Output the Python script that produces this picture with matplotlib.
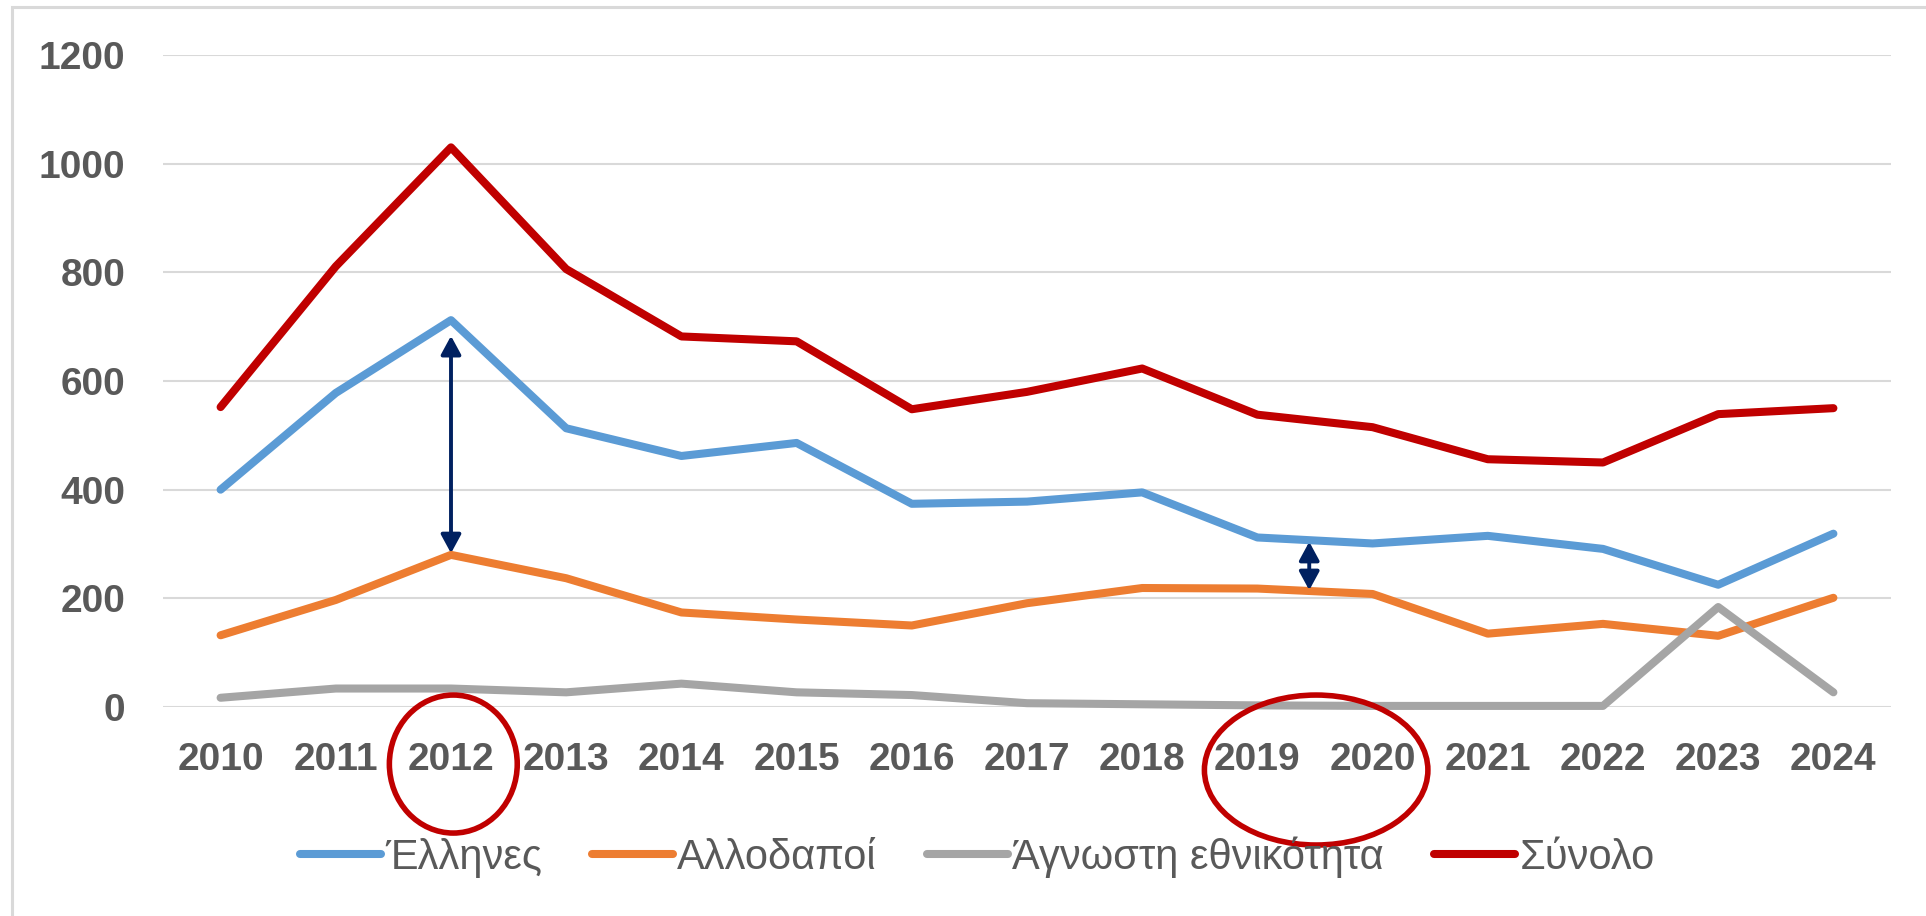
import matplotlib.pyplot as plt
from matplotlib.patches import Ellipse, Rectangle

# values
years = list(range(2010, 2025))
greeks = [400, 578, 712, 513, 462, 486, 374, 378, 395, 312, 301, 315, 291, 225, 319]
foreigners = [132, 197, 280, 237, 174, 161, 150, 191, 219, 218, 208, 135, 153, 131, 201]
unknown = [17, 34, 34, 27, 43, 27, 22, 7, 5, 3, 2, 2, 2, 184, 27]
total = [552, 811, 1030, 806, 682, 673, 548, 580, 623, 538, 515, 456, 450, 539, 550]

labels = ["Έλληνες", "Αλλοδαποί", "Άγνωστη εθνικότητα", "Σύνολο"]
colors = ["#5B9BD5", "#ED7D31", "#A5A5A5", "#C00000"]

plt.rcParams['font.family'] = ['Liberation Sans', 'DejaVu Sans']

W, H = 1926, 916
fig = plt.figure(figsize=(W / 100, H / 100), dpi=100)
ax = fig.add_axes([163 / W, 1 - 707 / H, (1891 - 163) / W, (707 - 55) / H])

for vals, lab, col in zip([greeks, foreigners, unknown, total], labels, colors):
    ax.plot(years, vals, color=col, lw=5.8, label=lab, solid_capstyle='round',
            solid_joinstyle='round', clip_on=False)

ax.set_xlim(2009.5, 2024.5)
ax.set_ylim(0, 1200)
ax.set_yticks(range(0, 1201, 200))
ax.set_xticks(years)
ax.grid(axis='y', color='#D9D9D9', lw=1.5)
ax.set_axisbelow(True)
for s in ax.spines.values():
    s.set_visible(False)
ax.tick_params(length=0, labelsize=28, labelcolor='#595959')
ax.tick_params(axis='y', pad=27)
ax.tick_params(axis='x', pad=25)
for t in ax.get_xticklabels() + ax.get_yticklabels():
    t.set_fontweight('bold')

# gap arrows
arrow_style = dict(arrowstyle='<|-|>,head_length=0.7,head_width=0.38', color='#002060',
                   lw=2.8, shrinkA=0, shrinkB=0, mutation_scale=16)
ax.annotate('', xy=(2012, 283), xytext=(2012, 683), arrowprops=arrow_style, zorder=6)
ax.annotate('', xy=(2019.45, 215), xytext=(2019.45, 304), arrowprops=arrow_style, zorder=6)

# circles around the year labels
for cx, cy, w, h in [(2012.02, -105, 1.11, 254), (2019.51, -116, 1.94, 276)]:
    ax.add_patch(Ellipse((cx, cy), w, h, fill=False, edgecolor='#C00000', lw=4,
                         clip_on=False, zorder=5))

fig.legend(loc='center', bbox_to_anchor=(0.5073, 0.0644), ncol=4, frameon=False,
           fontsize=30, handlelength=1.95, handletextpad=0.1, columnspacing=1.2,
           labelcolor='#595959')

# outer frame
fig.patches.append(Rectangle((12 / W, -0.02), 1.0, 1 - 7 / H + 0.02, transform=fig.transFigure,
                             fill=False, edgecolor='#D9D9D9', lw=2.2))

fig.savefig("out.png", dpi=100)
